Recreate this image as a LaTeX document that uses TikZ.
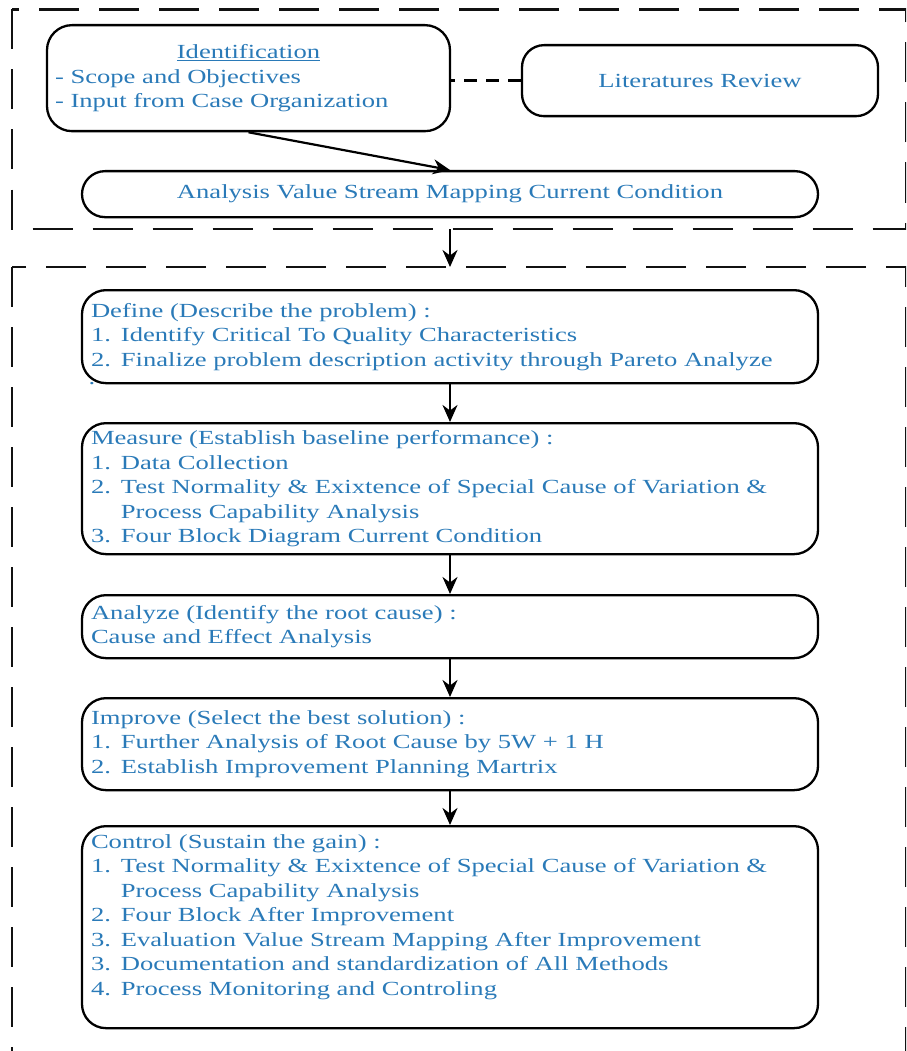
\documentclass[tikz,border=0pt]{standalone}
\usepackage{fontspec}
\setmainfont{Liberation Serif}[FakeStretch=1.33]
\usepackage{tikz}
\usetikzlibrary{arrows.meta, calc, positioning}
\definecolor{stxt}{HTML}{2A7AB8}
\definecolor{frameblk}{HTML}{111111}
\newcommand{\stagefont}{\fontsize{20}{24.5}\selectfont}
\newcommand{\hang}{\phantom{2. }}
\tikzset{
  frame/.style    = {draw=frameblk, line width=2.6pt, dash pattern=on 40pt off 20pt},
  stagebox/.style = {draw=black, line width=2.3pt, rounded corners=24pt, text=stxt,
                     font=\stagefont, inner xsep=9pt, inner ysep=4pt, text width=718pt,
                     minimum width=736pt, align=left, anchor=north},
  flow/.style     = {-{Stealth[length=17pt, width=15pt]}, line width=2.2pt},
  linkdash/.style = {line width=2.3pt, dash pattern=on 13pt off 9pt},
}

\begin{document}
\begin{tikzpicture}[x=1pt, y=-1pt]
  \useasboundingbox (0,0) rectangle (906,1051);
  \clip (0,0) rectangle (906,1051);
  \draw[frame] (12,9.5) rectangle (906,229);
  \draw[frame] (12,267) rectangle (906,1090);
  \coordinate (upperedge) at (450,229);
  \coordinate (loweredge) at (450,267);
  % first stage
  \node[stagebox, text width=387pt, minimum width=403pt, inner xsep=8pt,
        minimum height=106pt, rounded corners=25pt] (ident) at (248.5,24)
    {\makebox[\linewidth]{\underline{Identification}}\\
     - Scope and Objectives\\
     - Input from Case Organization};
  \node[stagebox, align=center, text width=338pt, minimum width=354pt,
        minimum height=71pt, rounded corners=22pt] (lit) at (700,44) {Literatures Review};
  \node[stagebox, align=center, minimum height=46pt, rounded corners=23pt] (vsm) at (450,170)
    {Analysis Value Stream Mapping Current Condition};
  \draw[linkdash] (lit.west) -- (lit.west -| ident.east);
  \draw[flow] (ident.south) -- (vsm.north);
  \draw[flow] (upperedge) -- (loweredge);
  % DMAIC
  \node[stagebox, minimum height=93pt] (define) at (450,289)
    {Define (Describe the problem) :\\
     1. Identify Critical To Quality Characteristics\\
     2. Finalize problem description activity through Pareto Analyze};
  \node[text=stxt, font=\stagefont, inner sep=0pt] (stray) at (92,384) {.};
  \node[stagebox, minimum height=131pt] (measure) at (450,422)
    {Measure (Establish baseline performance) :\\
     1. Data Collection\\
     2. Test Normality \& Exixtence of Special Cause of Variation \&\\
     \hang Process Capability Analysis\\
     3. Four Block Diagram Current Condition};
  \node[stagebox, minimum height=63pt] (analyze) at (450,594)
    {Analyze (Identify the root cause) :\\
     Cause and Effect Analysis};
  \node[stagebox, minimum height=92pt] (improve) at (450,697)
    {Improve (Select the best solution) :\\
     1. Further Analysis of Root Cause by 5W + 1 H\\
     2. Establish Improvement Planning Martrix};
  \node[stagebox, minimum height=202pt] (control) at (450,825)
    {Control (Sustain the gain) :\\
     1. Test Normality \& Exixtence of Special Cause of Variation \&\\
     \hang Process Capability Analysis\\
     2. Four Block After Improvement\\
     3. Evaluation Value Stream Mapping After Improvement\\
     3. Documentation and standardization of All Methods\\
     4. Process Monitoring and Controling\\
     \mbox{}};
  \draw[flow] (define.south) -- (measure.north);
  \draw[flow] (measure.south) -- (analyze.north);
  \draw[flow] (analyze.south) -- (improve.north);
  \draw[flow] (improve.south) -- (control.north);
\end{tikzpicture}
\end{document}
